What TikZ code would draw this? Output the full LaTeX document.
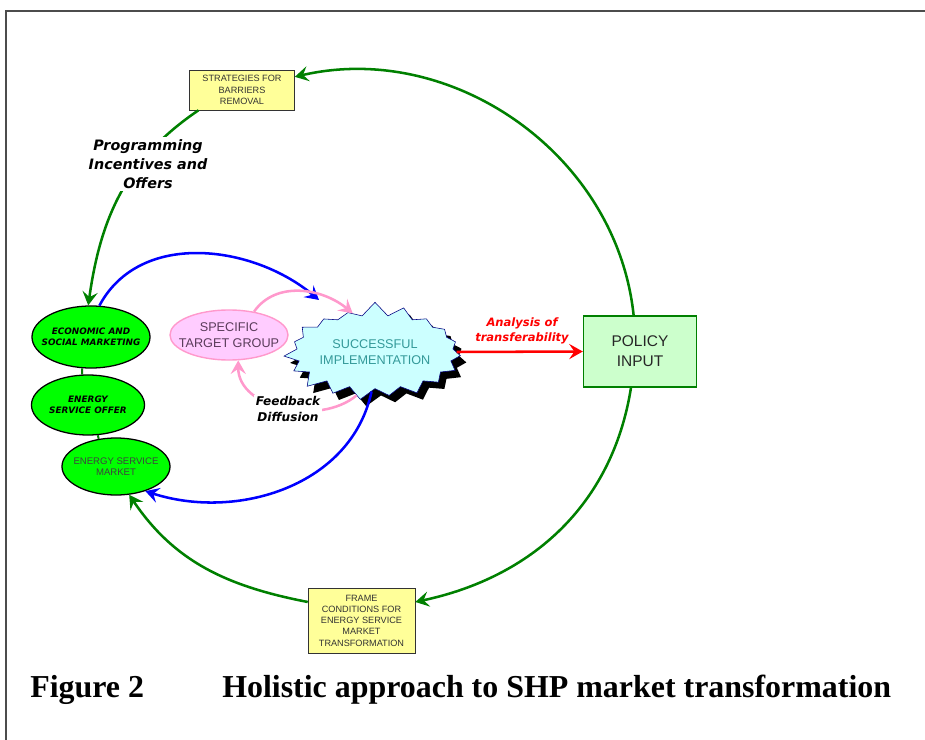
\documentclass[tikz,border=0pt]{standalone}
\usepackage{fontspec}
\setmainfont{Liberation Serif}
\setsansfont{Liberation Sans}
\newfontfamily\heavyfont{DejaVu Sans}
\usetikzlibrary{arrows.meta, shapes.geometric, shapes.symbols, shadows}

\definecolor{arcgreen}{RGB}{0,128,0}
\definecolor{boxyellow}{RGB}{255,255,153}
\definecolor{ovalgreen}{RGB}{0,255,0}
\definecolor{pinkline}{RGB}{255,153,204}
\definecolor{pinkfill}{RGB}{255,204,255}
\definecolor{pinktext}{RGB}{90,60,90}
\definecolor{burstfill}{RGB}{204,255,255}
\definecolor{burstline}{RGB}{0,0,128}
\definecolor{bursttext}{RGB}{51,153,153}
\definecolor{policyfill}{RGB}{204,255,204}

\begin{document}
\begin{tikzpicture}[x=0.025cm, y=-0.025cm,
  every node/.style={font=\sffamily, align=center},
  tip/.style={-{Stealth[length=3.4mm, width=3.8mm, inset=1.3mm]}},
  greenarc/.style={tip, draw=arcgreen, line width=1.8pt},
  bluearc/.style={tip, draw=blue, line width=1.8pt},
  pinkarc/.style={tip, draw=pinkline, line width=1.8pt},
  greenlink/.style={draw=arcgreen, line width=1.4pt},
  yellowbox/.style={draw=black!80, fill=boxyellow, inner sep=0pt,
    font=\sffamily\fontsize{6.5}{8}\selectfont, text=black!80},
  greenoval/.style={ellipse, draw=black, line width=0.9pt, fill=ovalgreen, inner sep=-10pt,
    font=\heavyfont\bfseries\itshape\fontsize{6.3}{8}\selectfont},
  boldlabel/.style 2 args={font=\heavyfont\bfseries\itshape\fontsize{#1}{#2}\selectfont}
]
  \useasboundingbox (0,0) rectangle (925,740);
  \draw[black!70, line width=1.2pt] (6,740) -- (6,11) -- (925,11);

  % boxes and ovals
  \node[yellowbox, minimum width=2.625cm, minimum height=1cm] (strategies) at (242,90)
    {STRATEGIES FOR\\BARRIERS\\REMOVAL};
  \node[yellowbox, minimum width=2.675cm, minimum height=1.625cm] (frame) at (361.5,620.5)
    {FRAME\\CONDITIONS FOR\\ENERGY SERVICE\\MARKET\\TRANSFORMATION};
  \node[draw=arcgreen, line width=1pt, fill=policyfill, minimum width=2.825cm, minimum height=1.775cm,
    font=\sffamily\fontsize{11}{14}\selectfont, text=black!85] (policy) at (640,351.5) {POLICY\\INPUT};
  \node[greenoval, minimum width=2.95cm, minimum height=1.55cm] (econ) at (91,337)
    {ECONOMIC AND\\SOCIAL MARKETING};
  \node[greenoval, minimum width=2.825cm, minimum height=1.5cm] (offer) at (88,405)
    {ENERGY\\SERVICE OFFER};
  \node[greenoval, minimum width=2.7cm, minimum height=1.425cm,
    font=\sffamily\fontsize{6.8}{8.2}\selectfont, text=black!75] (market) at (116,466.5)
    {ENERGY SERVICE\\MARKET};
  \node[ellipse, draw=pinkline, line width=1pt, fill=pinkfill, inner sep=-10pt,
    minimum width=2.95cm, minimum height=1.25cm, text=pinktext,
    font=\sffamily\fontsize{9}{11}\selectfont] (target) at (229,335) {SPECIFIC\\TARGET GROUP};
  \node[starburst, starburst points=19, starburst point height=0.36cm, random starburst=7,
    draw=burstline, fill=burstfill, text=bursttext, inner sep=0pt,
    minimum width=4.2cm, minimum height=2.55cm, font=\sffamily\fontsize{9}{11}\selectfont,
    drop shadow={shadow xshift=0.15cm, shadow yshift=-0.17cm, fill=black, opacity=1}]
    (success) at (375,352) {SUCCESSFUL\\IMPLEMENTATION};
  \coordinate (burstin) at (319,300);

  % outer cycle
  \draw[greenarc] (policy.100) to[out=96, in=13] (strategies.14);
  \draw[greenarc] (policy.-104) to[out=-99, in=12] (frame.19);
  \draw[greenarc] (frame.161) to[out=169, in=-56] (market.-65);
  \draw[greenarc] (strategies.205) to[out=214, in=82] (econ.95);
  \draw[greenlink] (econ.-106) -- (offer.101);
  \draw[greenlink] (offer.-72) -- (market.122);

  % inner loop
  \draw[bluearc] (econ.75) to[out=62, in=140] (burstin);
  \draw[bluearc] (success.-95) to[out=-102, in=-18] (market.-40);
  \draw[pinkarc] (target.43) to[out=55, in=140] (success.120);
  \draw[pinkarc] (success.-113) to[out=-140, in=-90] (target.-70);
  \draw[tip, draw=red, line width=1.8pt] (success.east) -- (policy.west);

  % labels
  \node[boldlabel={10.2}{13.5}, fill=white, inner sep=2pt] (proglabel) at (148,164)
    {Programming\\Incentives and\\Offers};
  \node[boldlabel={8.2}{10.7}, text=red] (analysislabel) at (522,331) {Analysis of\\transferability};
  \node[boldlabel={8.6}{10.7}, fill=white, inner sep=1pt] (feedlabel) at (288,409) {Feedback\\Diffusion};

  % caption
  \node[anchor=base west, inner sep=0pt, font=\rmfamily\bfseries\fontsize{22.7}{28}\selectfont]
    (fignum) at (30,697) {Figure 2};
  \node[anchor=base west, inner sep=0pt, font=\rmfamily\bfseries\fontsize{22.7}{28}\selectfont]
    (figtitle) at (222,697) {Holistic approach to SHP market transformation};
\end{tikzpicture}
\end{document}
